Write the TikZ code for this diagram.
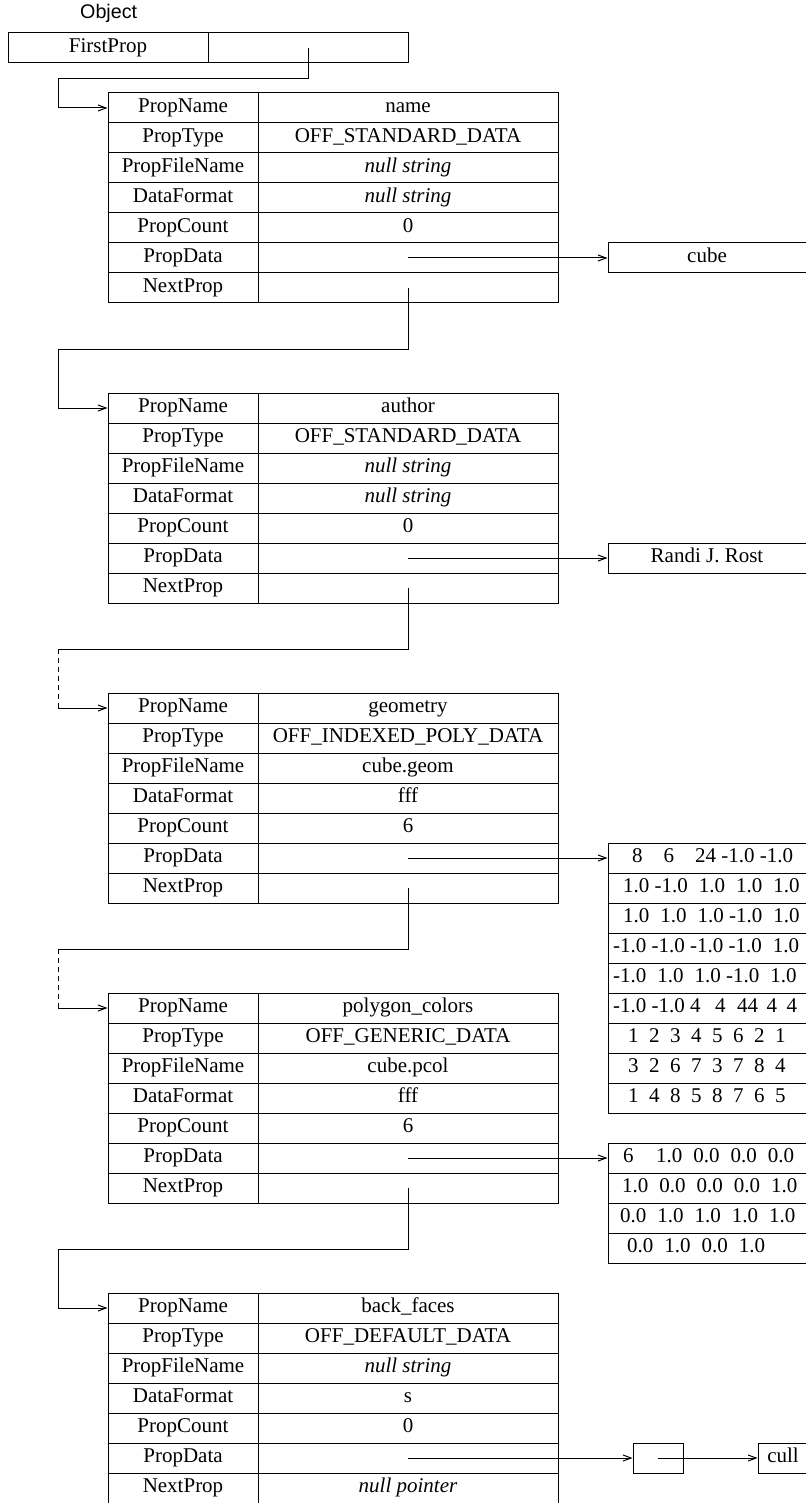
\documentclass[tikz,border=0pt]{standalone}
\usepackage{fontspec}
\setmainfont{Liberation Serif}
\newfontfamily\sansf{Liberation Sans}
\usetikzlibrary{arrows.meta}
\newcommand\gp{\hspace{11pt}}
\newcommand\ds{\hspace{10.5pt}}
\newcommand\proptable[8]{%
  \foreach \lab/\val [count=\k from 0] in {PropName/{#3},PropType/{#4},PropFileName/{#5},DataFormat/{#6},PropCount/{#7},PropData/{},NextProp/{#8}}{%
    \node[lcell] (#1-\k-l) at (183,{#2+15+30*\k}) {\lab};
    \node[vcell] (#1-\k-v) at (408,{#2+15+30*\k}) {\val};
  }%
}
\begin{document}
\begin{tikzpicture}[x=1pt,y=-1pt,
  every node/.style={font=\fontsize{21}{24}\selectfont},
  box/.style={draw, line width=1pt, inner sep=0pt, minimum height=30pt, text height=14pt, text depth=5pt},
  lcell/.style={box, minimum width=150pt},
  vcell/.style={box, minimum width=300pt},
  dcell/.style={box, minimum width=198pt},
  dtext/.style={anchor=base west, inner sep=0pt},
  wire/.style={line width=1pt},
  arr/.style={wire, -{Straight Barb[length=8pt,width=6pt]}},
  dsh/.style={wire, dash pattern=on 5pt off 4pt}]
\useasboundingbox (0,0) rectangle (805,1503);

% Object header
\node[anchor=base west, inner sep=0pt, font=\sansf\fontsize{19.7}{22}\selectfont] (objlabel) at (80,19) {Object};
\node[box, minimum width=200pt] (fp) at (108,48) {FirstProp};
\node[box, minimum width=200pt] (fpv) at (308,48) {};

% property tables
\proptable{t1}{93}{name}{OFF\_STANDARD\_DATA}{\textit{null string}}{\textit{null string}}{0}{}
\proptable{t2}{393}{author}{OFF\_STANDARD\_DATA}{\textit{null string}}{\textit{null string}}{0}{}
\proptable{t3}{693}{geometry}{OFF\_INDEXED\_POLY\_DATA}{cube.geom}{fff}{6}{}
\proptable{t4}{993}{polygon\_colors}{OFF\_GENERIC\_DATA}{cube.pcol}{fff}{6}{}
\proptable{t5}{1293}{back\_faces}{OFF\_DEFAULT\_DATA}{\textit{null string}}{s}{0}{\textit{null pointer}}

% chain connectors
\coordinate (c0) at (58,79);
\draw[arr] (fpv.center) |- (c0) |- (t1-0-l.west);
\coordinate (c1) at (58,349);
\draw[arr] (t1-6-v.center) |- (c1) |- (t2-0-l.west);
\coordinate (c2) at (58,649);
\draw[wire] (t2-6-v.center) |- (c2);
\draw[dsh] (c2) -- (c2 |- t3-0-l.west);
\draw[arr] (c2 |- t3-0-l.west) -- (t3-0-l.west);
\coordinate (c3) at (58,949);
\draw[wire] (t3-6-v.center) |- (c3);
\draw[dsh] (c3) -- (c3 |- t4-0-l.west);
\draw[arr] (c3 |- t4-0-l.west) -- (t4-0-l.west);
\coordinate (c4) at (58,1249);
\draw[arr] (t4-6-v.center) |- (c4) |- (t5-0-l.west);

% data of name and author
\node[dcell] (cube) at (707,258) {cube};
\draw[arr] (t1-5-v.center) -- (cube.west);
\node[dcell] (rost) at (707,558) {Randi J. Rost};
\draw[arr] (t2-5-v.center) -- (rost.west);

% geometry data
\foreach \k in {0,...,8}{\node[dcell] (g\k) at (707,{858+30*\k}) {};}
\foreach \x/\t [count=\k from 0] in {
  632/{8\hspace{21pt}6\hspace{21pt}24 -1.0 -1.0},
  623/{1.0 -1.0\gp1.0\gp1.0\gp1.0},
  623/{1.0\gp1.0\gp1.0 -1.0\gp1.0},
  613/{-1.0 -1.0 -1.0 -1.0\gp1.0},
  613/{-1.0\gp1.0\gp1.0 -1.0\gp1.0},
  613/{-1.0 -1.0 4\hspace{14.5pt}4\hspace{11.5pt}44\hspace{8.5pt}4\hspace{9.5pt}4},
  628/{1\ds2\ds3\ds4\ds5\ds6\ds2\ds1},
  628/{3\ds2\ds6\ds7\ds3\ds7\ds8\ds4},
  628/{1\ds4\ds8\ds5\ds8\ds7\ds6\ds5}}{
  \node[dtext] (g\k-t) at (\x,{862.5+30*\k}) {\t};
}
\draw[arr] (t3-5-v.center) -- (g0.west);

% polygon colors data
\foreach \k in {0,...,3}{\node[dcell] (p\k) at (707,{1158+30*\k}) {};}
\foreach \x/\t [count=\k from 0] in {
  623/{6\hspace{22.5pt}1.0\gp0.0\gp0.0\gp0.0},
  622/{1.0\gp0.0\gp0.0\gp0.0\gp1.0},
  620/{0.0\gp1.0\gp1.0\gp1.0\gp1.0},
  627/{0.0\gp1.0\gp0.0\gp1.0}}{
  \node[dtext] (p\k-t) at (\x,{1162.5+30*\k}) {\t};
}
\draw[arr] (t4-5-v.center) -- (p0.west);

% back faces data
\node[box, minimum width=50pt] (bf) at (658,1458) {};
\node[box, minimum width=50pt] (cull) at (783,1458) {cull};
\draw[arr] (t5-5-v.center) -- (bf.west);
\draw[arr] (bf.center) -- (cull.west);
\end{tikzpicture}
\end{document}
